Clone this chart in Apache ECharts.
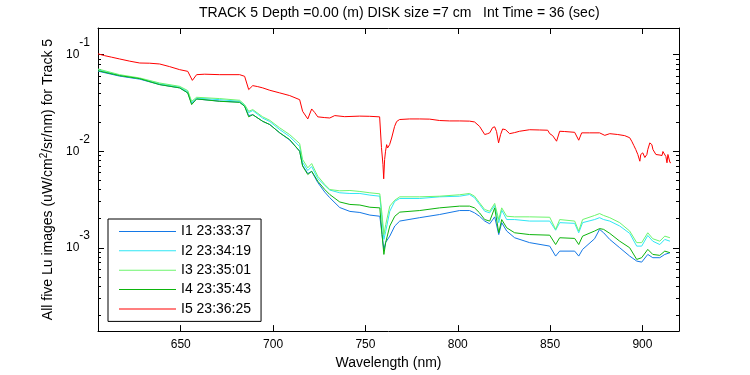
<!DOCTYPE html>
<html>
<head>
<meta charset="utf-8">
<script src="https://cdn.jsdelivr.net/npm/echarts@6/dist/echarts.min.js"></script>
<style>html,body{margin:0;padding:0;background:#fff}#c{width:750px;height:375px}</style>
</head>
<body>
<div id="c"></div>
<script>
// ---- data ----
const titleText = 'TRACK 5 Depth =0.00 (m) DISK size =7 cm   Int Time = 36 (sec)';
const seriesNames = ['I1 23:33:37', 'I2 23:34:19', 'I3 23:35:01', 'I4 23:35:43', 'I5 23:36:25'];
const xTicks = [650, 700, 750, 800, 850, 900];
const yMajorTicks = [0.001, 0.01, 0.1];
const yMinorTicks = [0.0002,0.0003,0.0004,0.0005,0.0006,0.0007,0.0008,0.0009,
  0.002,0.003,0.004,0.005,0.006,0.007,0.008,0.009,
  0.02,0.03,0.04,0.05,0.06,0.07,0.08,0.09];

const wavelength = [605.2,616.9,627.8,638.6,649.4,653.8,655.9,658.6,671.1,681.9,684.6,686.8,689.0,694.4,698.2,703.6,709.0,714.4,716.0,718.8,720.9,724.2,728.0,730.7,736.1,741.6,747.0,752.4,757.8,759.0,760.0,761.0,763.2,765.9,768.6,779.4,790.2,801.0,806.4,809.1,811.8,814.6,817.3,820.0,822.2,823.8,826.5,830.8,838.9,849.8,853.0,855.2,863.3,865.5,867.6,874.1,876.8,879.0,882.3,887.7,893.1,896.9,899.6,902.9,905.6,909.4,912.1,914.9];

const luI1 = [0.0675,0.0600,0.0558,0.0490,0.0453,0.0402,0.0311,0.0348,0.0330,0.0323,0.0292,0.0234,0.0239,0.0204,0.0189,0.0155,0.01306,0.0100,0.00711,0.00587,0.00617,0.00474,0.00377,0.00330,0.00261,0.00238,0.00232,0.00218,0.00212,0.00137,0.000962,0.00114,0.00132,0.00168,0.00189,0.00205,0.00221,0.00243,0.00243,0.00230,0.00212,0.00189,0.00177,0.00209,0.00137,0.00182,0.00149,0.00127,0.00113,0.00104,0.000820,0.000923,0.000923,0.000820,0.000962,0.00124,0.00155,0.00143,0.00122,0.00100,0.000820,0.000728,0.000710,0.000853,0.000789,0.000789,0.000853,0.000889];

const luI2 = [0.0700,0.0610,0.0565,0.0501,0.0461,0.0414,0.0319,0.0355,0.0342,0.0329,0.0297,0.0251,0.0264,0.0220,0.0203,0.01675,0.01419,0.01117,0.00764,0.00631,0.00694,0.00521,0.00442,0.00396,0.00371,0.00365,0.00365,0.00351,0.00342,0.00196,0.00122,0.00148,0.00239,0.00303,0.00324,0.00324,0.00337,0.00342,0.00356,0.00330,0.00281,0.00239,0.00230,0.00274,0.00182,0.00245,0.00196,0.00196,0.00189,0.00189,0.00152,0.00182,0.00179,0.00143,0.00182,0.00196,0.00205,0.00196,0.00189,0.00168,0.00141,0.00104,0.00104,0.00134,0.00117,0.00108,0.00122,0.00117];

const luI3 = [0.0711,0.0621,0.0574,0.0509,0.0470,0.0425,0.0329,0.0362,0.0351,0.0337,0.0304,0.0259,0.0270,0.0227,0.0209,0.01746,0.01486,0.0120,0.00820,0.00673,0.00745,0.00551,0.00452,0.00401,0.00389,0.00392,0.00383,0.00371,0.00362,0.00221,0.00137,0.00174,0.00270,0.00311,0.00337,0.00337,0.00342,0.00354,0.00365,0.00342,0.00292,0.00249,0.00239,0.00288,0.00196,0.00259,0.00212,0.00209,0.00209,0.00207,0.00155,0.00196,0.00189,0.00149,0.00196,0.00216,0.00226,0.00216,0.00205,0.00182,0.00149,0.00113,0.00113,0.00143,0.00124,0.00117,0.00132,0.00127];

const luI4 = [0.0683,0.0607,0.0565,0.0490,0.0453,0.0402,0.0304,0.0348,0.0329,0.0321,0.0292,0.0227,0.0239,0.0204,0.0189,0.0155,0.0132,0.0100,0.00700,0.00574,0.00621,0.00489,0.00401,0.00356,0.00298,0.00281,0.00277,0.00263,0.00259,0.00137,0.000853,0.00114,0.00168,0.00212,0.00234,0.00243,0.00259,0.00270,0.00270,0.00259,0.00230,0.00196,0.00189,0.00259,0.00143,0.00196,0.00161,0.00143,0.00137,0.00135,0.00108,0.00127,0.00125,0.00108,0.00132,0.00149,0.00158,0.00155,0.00141,0.00117,0.00100,0.000757,0.000789,0.000962,0.000853,0.000834,0.000923,0.000889];

const wavelengthI5 = [605.2,608.8,612.6,616.9,622.4,627.8,633.2,638.6,644.0,649.4,653.8,656.3,658.6,663.0,671.1,681.9,684.6,686.8,689.0,691.7,694.4,698.2,703.6,709.0,714.4,716.0,718.8,720.9,722.6,724.2,728.0,730.7,733.4,738.8,746.9,752.3,757.7,758.7,759.5,759.9,760.4,760.9,761.5,762.0,763.1,764.2,765.8,766.9,768.5,773.9,779.3,784.8,790.2,795.6,801.0,806.4,809.1,811.8,814.6,816.2,817.3,818.9,820.0,821.0,822.1,823.2,824.3,825.9,828.1,830.8,833.5,838.9,844.3,848.7,849.8,851.4,853.5,855.2,857.9,863.3,865.5,867.1,871.4,876.8,879.6,882.3,886.6,890.4,893.1,894.2,895.3,896.4,897.5,898.6,899.1,900.2,901.3,902.4,902.9,904.0,905.1,905.7,907.3,909.5,910.6,911.1,911.7,912.7,913.3,913.8,914.4,914.9,915.4];

const luI5 = [0.102,0.0977,0.0942,0.0903,0.0857,0.0820,0.0816,0.0801,0.0752,0.0700,0.0672,0.0542,0.0621,0.0628,0.0621,0.0621,0.0597,0.0435,0.0478,0.0467,0.0453,0.0428,0.0402,0.0377,0.0342,0.0259,0.0216,0.0274,0.0251,0.0227,0.0223,0.0221,0.0234,0.0228,0.0231,0.0230,0.0227,0.0109,0.00728,0.00518,0.00820,0.0100,0.0117,0.0108,0.0117,0.0137,0.0181,0.0203,0.0213,0.0216,0.0216,0.0215,0.0208,0.0206,0.0206,0.0205,0.0201,0.0181,0.0149,0.0152,0.0155,0.0176,0.0179,0.0160,0.0122,0.0149,0.0170,0.0167,0.0152,0.0156,0.0161,0.0167,0.0166,0.0165,0.0152,0.0145,0.0127,0.0161,0.0160,0.0157,0.0130,0.0155,0.0155,0.0155,0.0146,0.0152,0.0149,0.0145,0.0138,0.0127,0.0115,0.0104,0.00925,0.00788,0.00925,0.00962,0.00861,0.00925,0.0104,0.0122,0.0117,0.0104,0.00925,0.00912,0.00902,0.00993,0.0100,0.00881,0.00759,0.00925,0.00925,0.00764,0.00759];

const xMin = 605.2, xMax = 919.8;
const yMin = 0.000137, yMax = 0.189;

// ---- chart ----
const FONT = 'Liberation Sans, Arial, Helvetica, sans-serif';
const colors = ['#1478e6', '#2ee6f5', '#6cf56c', '#0cb40c', '#ff0000'];
const zip = (xs, ys) => xs.map((x, i) => [x, ys[i]]);
const seriesData = [
  zip(wavelength, luI1), zip(wavelength, luI2), zip(wavelength, luI3),
  zip(wavelength, luI4), zip(wavelengthI5, luI5)
];

const axisLine = { show: true, lineStyle: { color: '#000', width: 1 } };

function xAxisDef(pos, showLabels) {
  return {
    type: 'value', position: pos, min: xMin, max: xMax,
    axisLine: axisLine,
    axisTick: { show: true, inside: true, length: 6, customValues: xTicks, lineStyle: { color: '#000' } },
    axisLabel: { show: showLabels, customValues: xTicks, color: '#000', fontSize: 12, fontFamily: FONT, margin: 8 },
    splitLine: { show: false }
  };
}
function yAxisDef(pos, ticks, len, showLabels, showLine) {
  return {
    type: 'log', logBase: 10, position: pos, min: yMin, max: yMax,
    axisLine: Object.assign({}, axisLine, { show: showLine }),
    axisTick: { show: true, inside: true, length: len, customValues: ticks, lineStyle: { color: '#000' } },
    axisLabel: {
      show: showLabels, customValues: ticks, margin: 8,
      formatter: v => '{b|10}{e|' + Math.round(Math.log10(v)) + '}',
      rich: {
        b: { fontSize: 12, fontFamily: FONT, color: '#000', lineHeight: 36, verticalAlign: 'middle', align: 'right' },
        e: { fontSize: 12, fontFamily: FONT, color: '#000', lineHeight: 12, verticalAlign: 'top', align: 'right' }
      }
    },
    splitLine: { show: false },
    minorTick: { show: false }
  };
}

const xA = xAxisDef('bottom', true);
xA.name = 'Wavelength (nm)';
xA.nameLocation = 'middle';
xA.nameGap = 24;
xA.nameTextStyle = { color: '#000', fontSize: 14, fontFamily: FONT };

const yA = yAxisDef('left', yMajorTicks, 6, true, true);
yA.name = 'All five Lu images (uW/cm{s|2}/sr/nm) for Track 5';
yA.nameLocation = 'middle';
yA.nameGap = 37;
yA.nameTextStyle = { color: '#000', fontSize: 14, fontFamily: FONT,
  rich: { s: { fontSize: 10, fontFamily: FONT, color: '#000', padding: [0, 0, 8, 0] } } };

const chart = echarts.init(document.getElementById('c'), null, { renderer: 'canvas' });
chart.setOption({
  animation: false,
  backgroundColor: '#fff',
  color: colors,
  title: {
    text: titleText, left: 199, top: 6, padding: 0,
    textStyle: { fontSize: 14, fontWeight: 'normal', color: '#000', fontFamily: FONT }
  },
  grid: { left: 98, top: 28, right: 71, bottom: 43, containLabel: false },
  xAxis: [xA, xAxisDef('top', false)],
  yAxis: [
    yA,
    yAxisDef('left', yMinorTicks, 3, false, false),
    yAxisDef('right', yMajorTicks, 6, false, true),
    yAxisDef('right', yMinorTicks, 3, false, false)
  ],
  legend: {
    orient: 'vertical', left: 108, top: 219,
    data: seriesNames.map(n => ({ name: n, icon: 'rect' })),
    itemWidth: 57, itemHeight: 1, itemGap: 5.4,
    padding: [5.4, 10, 5.4, 11],
    borderColor: '#000', borderWidth: 1, borderRadius: 0,
    backgroundColor: '#fff',
    textStyle: { fontSize: 14, fontFamily: FONT, color: '#000', lineHeight: 14 }
  },
  series: seriesNames.map((name, i) => ({
    name: name, type: 'line', xAxisIndex: 0, yAxisIndex: 0,
    data: seriesData[i], symbol: 'none', showSymbol: false,
    lineStyle: { width: 1, color: colors[i] },
    itemStyle: { color: colors[i] },
    emphasis: { disabled: true }
  }))
});
</script>
</body>
</html>
